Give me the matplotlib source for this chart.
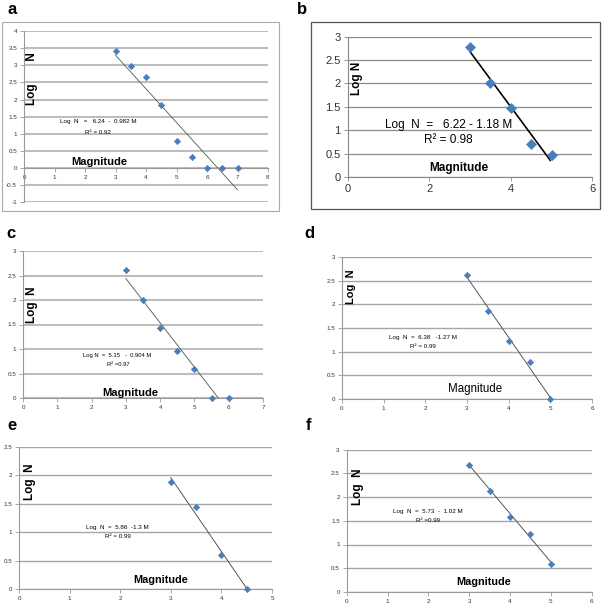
import matplotlib
matplotlib.use('Agg')
import matplotlib.pyplot as plt
from matplotlib.patches import Rectangle
from matplotlib.ticker import FuncFormatter
import numpy as np

W, H = 610, 605

# data
mag_a = [3, 3.5, 4, 4.5, 5, 5.5, 6, 6.5, 7]
logn_a = [3.43, 2.99, 2.67, 1.83, 0.78, 0.31, 0, 0, 0]
mag_b = [3, 3.5, 4, 4.5, 5]
logn_b = [2.79, 2.02, 1.47, 0.71, 0.48]
mag_c = [3, 3.5, 4, 4.5, 5, 5.5, 6]
logn_c = [2.61, 1.99, 1.42, 0.95, 0.60, 0, 0]
mag_d = [3, 3.5, 4, 4.5, 5]
logn_d = [2.63, 1.86, 1.23, 0.78, 0]
mag_e = [3, 3.5, 4, 4.5]
logn_e = [1.89, 1.45, 0.60, 0]
mag_f = [3, 3.5, 4, 4.5, 5]
logn_f = [2.67, 2.13, 1.57, 1.22, 0.60]

# regression: intercept, slope, x range of drawn line
fit_a = (6.24, -0.982, 3, 7)
fit_b = (6.22, -1.18, 3, 4.97)
fit_c = (5.15, -0.904, 3, 5.7)
fit_d = (6.38, -1.27, 3, 5.02)
fit_e = (5.86, -1.3, 3, 4.5)
fit_f = (5.73, -1.02, 3, 5)

fig = plt.figure(figsize=(W / 100, H / 100), dpi=100)
plt.rcParams['font.family'] = ['Liberation Sans', 'DejaVu Sans']

blue = '#4a7ebb'


def px_axes(left, right, top, bottom):
    return fig.add_axes([left / W, 1 - bottom / H, (right - left) / W, (bottom - top) / H])


def ftext(x, y, s, **kw):
    fig.text(x / W, 1 - y / H, s, **kw)


def setup(ax, xlim, ylim, xstep, ystep, tsize, gcolor, glw, spine='#999999'):
    ax.set_xlim(*xlim)
    ax.set_ylim(*ylim)
    ax.set_xticks(np.arange(xlim[0], xlim[1] + 0.01, xstep))
    ax.set_yticks(np.arange(ylim[0], ylim[1] + 0.01, ystep))
    fmt = FuncFormatter(lambda v, p: '%g' % v)
    ax.xaxis.set_major_formatter(fmt)
    ax.yaxis.set_major_formatter(fmt)
    for s in ['top', 'right']:
        ax.spines[s].set_visible(False)
    ax.spines['left'].set_color(spine)
    ax.spines['bottom'].set_color(spine)
    ax.spines['left'].set_linewidth(0.8)
    ax.spines['bottom'].set_linewidth(0.8)
    ax.spines['bottom'].set_position(('data', 0))
    ax.tick_params(labelsize=tsize, colors=spine, labelcolor='#333333', length=3, width=0.6, pad=2)
    ax.yaxis.grid(True, color=gcolor, lw=glw)
    ax.set_axisbelow(True)
    ax.patch.set_alpha(0)


def plot_panel(ax, x, y, fit, ms, lcolor, llw):
    b0, b1, x0, x1 = fit
    xs = np.array([x0, x1])
    ax.plot(xs, b0 + b1 * xs, color=lcolor, lw=llw, zorder=2)
    ax.plot(x, y, 'D', color=blue, ms=ms, mec=blue, mew=0.5, zorder=3, clip_on=False)


# borders around a and b
fig.add_artist(Rectangle((2 / W, 1 - 211 / H), 277 / W, 189 / H, transform=fig.transFigure,
                         fill=False, ec='#aaaaaa', lw=0.8))
fig.add_artist(Rectangle((311 / W, 1 - 209 / H), 289 / W, 187 / H, transform=fig.transFigure,
                         fill=False, ec='#555555', lw=0.9))

# panel a
ax = px_axes(24, 268, 31, 202.3)
setup(ax, (0, 8), (-1, 4), 1, 0.5, 4.5, '#bdbdbd', 1.5)
plot_panel(ax, mag_a, logn_a, fit_a, 3.2, '#555555', 0.6)
ftext(12, 9, 'a', fontsize=12, fontweight='bold', ha='center', va='center')
ftext(32, 79, 'Log       N', fontsize=8.5, fontweight='bold', rotation=90, ha='center', va='center')
ftext(99, 162, 'Magnitude', fontsize=8, fontweight='bold', ha='center', va='center')
ftext(98, 122, 'Log  N   =   6.24  -  0.982 M', fontsize=4.5, ha='center', va='center')
ftext(98, 133, 'R² = 0.92', fontsize=4.5, ha='center', va='center')

# panel b
ax = px_axes(347.7, 592.3, 36.7, 177)
setup(ax, (0, 6), (0, 3), 2, 0.5, 8, '#8c8c8c', 0.9, spine='#888888')
plot_panel(ax, mag_b, logn_b, fit_b, 5.2, 'black', 1.2)
ftext(302, 9, 'b', fontsize=12, fontweight='bold', ha='center', va='center')
ftext(357, 78, 'Log N', fontsize=8.5, fontweight='bold', rotation=90, ha='center', va='center')
ftext(459, 168, 'Magnitude', fontsize=8.5, fontweight='bold', ha='center', va='center')
ftext(449, 125, 'Log  N  =   6.22 - 1.18 M', fontsize=8.5, ha='center', va='center')
ftext(448, 140, 'R² = 0.98', fontsize=8.5, ha='center', va='center')

# panel c
ax = px_axes(23, 263, 251, 398)
setup(ax, (0, 7), (0, 3), 1, 0.5, 4.5, '#bdbdbd', 1.5)
plot_panel(ax, mag_c, logn_c, fit_c, 3.2, '#666666', 0.7)
ftext(11, 234, 'c', fontsize=12, fontweight='bold', ha='center', va='center')
ftext(32, 305, 'Log  N', fontsize=8.5, fontweight='bold', rotation=90, ha='center', va='center')
ftext(130, 393, 'Magnitude', fontsize=8, fontweight='bold', ha='center', va='center')
ftext(117, 356, 'Log N  =  5.15   -  0.904 M', fontsize=4.2, ha='center', va='center')
ftext(118, 365, 'R² =0.97', fontsize=4.2, ha='center', va='center')

# panel d
ax = px_axes(342, 592, 257, 399)
setup(ax, (0, 6), (0, 3), 1, 0.5, 4.5, '#a6a6a6', 1.0)
plot_panel(ax, mag_d, logn_d, fit_d, 3.2, '#555555', 0.7)
ftext(309, 233, 'd', fontsize=12, fontweight='bold', ha='center', va='center')
ftext(351, 287, 'Log  N', fontsize=8, fontweight='bold', rotation=90, ha='center', va='center')
ftext(475, 389, 'Magnitude', fontsize=8.3, ha='center', va='center')
ftext(423, 338, 'Log  N  =  6.38   -1.27 M', fontsize=4.5, ha='center', va='center')
ftext(423, 346, 'R² = 0.99', fontsize=4.5, ha='center', va='center')

# panel e
ax = px_axes(19, 272, 447, 589)
setup(ax, (0, 5), (0, 2.5), 1, 0.5, 4.5, '#a6a6a6', 1.0)
plot_panel(ax, mag_e, logn_e, fit_e, 3.2, '#555555', 0.7)
ftext(12, 425, 'e', fontsize=12, fontweight='bold', ha='center', va='center')
ftext(30, 482, 'Log  N', fontsize=8.5, fontweight='bold', rotation=90, ha='center', va='center')
ftext(161, 580, 'Magnitude', fontsize=7.8, fontweight='bold', ha='center', va='center')
ftext(117, 527, 'Log  N  =  5.86  -1.3 M', fontsize=4.5, ha='center', va='center')
ftext(118, 536, 'R² = 0.99', fontsize=4.5, ha='center', va='center')

# panel f
ax = px_axes(346.7, 591.7, 449.5, 592)
setup(ax, (0, 6), (0, 3), 1, 0.5, 4.5, '#a6a6a6', 1.0)
plot_panel(ax, mag_f, logn_f, fit_f, 3.2, '#555555', 0.7)
ftext(308, 425, 'f', fontsize=12, fontweight='bold', ha='center', va='center')
ftext(358, 487, 'Log  N', fontsize=8.5, fontweight='bold', rotation=90, ha='center', va='center')
ftext(484, 582, 'Magnitude', fontsize=7.8, fontweight='bold', ha='center', va='center')
ftext(428, 512, 'Log  N  =  5.73  -  1.02 M', fontsize=4.5, ha='center', va='center')
ftext(428, 521, 'R² =0.99', fontsize=4.5, ha='center', va='center')

fig.savefig('out.png', dpi=100)
